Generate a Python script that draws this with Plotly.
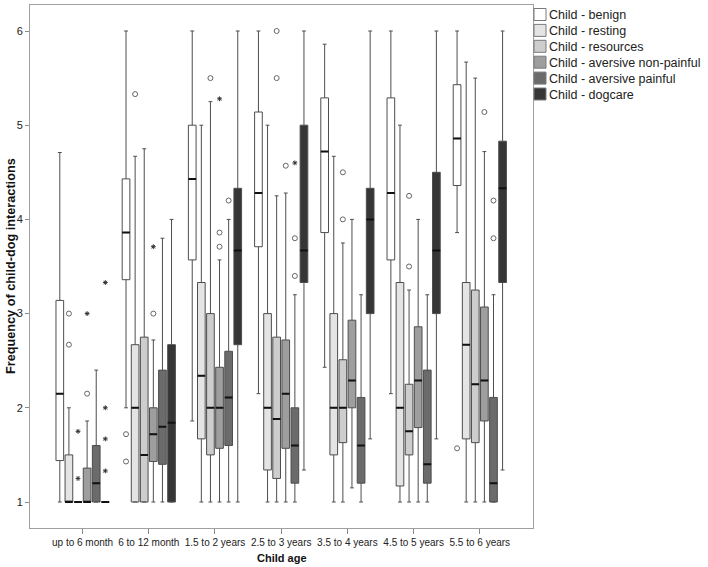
import plotly.graph_objects as go

# ---------------- data ----------------
categories = ["up to 6 month", "6 to 12 month", "1.5 to 2 years", "2.5 to 3 years",
              "3.5 to 4 years", "4.5 to 5 years", "5.5 to 6 years"]

series_names = ["Child - benign", "Child - resting", "Child - resources",
                "Child - aversive non-painful", "Child - aversive painful", "Child - dogcare"]

# per category: [lower whisker, Q1, median, Q3, upper whisker]
benign = [[1.00, 1.44, 2.15, 3.14, 4.71], [2.00, 3.36, 3.86, 4.43, 6.00], [1.86, 3.57, 4.43, 5.00, 6.00],
          [2.15, 3.71, 4.28, 5.14, 6.00], [2.43, 3.86, 4.72, 5.29, 5.86], [2.15, 3.57, 4.28, 5.29, 6.00],
          [3.86, 4.36, 4.86, 5.43, 6.00]]
resting = [[1.00, 1.00, 1.00, 1.50, 2.00], [1.00, 1.00, 2.00, 2.67, 4.67], [1.00, 1.67, 2.34, 3.33, 5.00],
           [1.00, 1.34, 2.00, 3.00, 5.00], [1.00, 1.50, 2.00, 3.00, 4.67], [1.00, 1.17, 2.00, 3.33, 5.00],
           [1.00, 1.67, 2.67, 3.33, 5.67]]
resources = [[1.00, 1.00, 1.00, 1.00, 1.00], [1.00, 1.00, 1.50, 2.75, 4.75], [1.00, 1.50, 2.00, 3.00, 5.25],
             [1.00, 1.25, 1.88, 2.75, 4.25], [1.00, 1.63, 2.00, 2.51, 3.75], [1.00, 1.50, 1.75, 2.25, 3.25],
             [1.00, 1.63, 2.25, 3.25, 5.50]]
nonpainful = [[1.00, 1.00, 1.00, 1.36, 1.86], [1.00, 1.43, 1.72, 2.00, 2.72], [1.00, 1.57, 2.00, 2.43, 3.57],
              [1.00, 1.57, 2.15, 2.72, 4.28], [1.15, 2.00, 2.29, 2.93, 4.00], [1.00, 1.79, 2.29, 2.86, 4.00],
              [1.00, 1.86, 2.29, 3.07, 4.72]]
painful = [[1.00, 1.00, 1.20, 1.60, 2.40], [1.00, 1.40, 1.80, 2.40, 3.80], [1.00, 1.60, 2.11, 2.60, 4.00],
           [1.00, 1.20, 1.60, 2.00, 3.20], [1.00, 1.20, 1.60, 2.11, 3.20], [1.00, 1.20, 1.40, 2.40, 3.20],
           [1.00, 1.00, 1.20, 2.11, 3.20]]
dogcare = [[1.00, 1.00, 1.00, 1.00, 1.00], [1.00, 1.00, 1.84, 2.67, 4.00], [1.00, 2.67, 3.67, 4.33, 6.00],
           [1.34, 3.33, 3.67, 5.00, 6.00], [1.67, 3.00, 4.00, 4.33, 6.00], [1.67, 3.00, 3.67, 4.50, 6.00],
           [1.34, 3.33, 4.33, 4.83, 6.00]]

# outliers: (category index, value)
benign_circles = [(1, 1.72), (1, 1.43), (6, 1.57)]
resting_circles = [(0, 3.00), (0, 2.67), (1, 5.33)]
resources_circles = [(2, 5.50), (3, 6.00), (3, 5.50), (4, 4.50), (4, 4.00), (5, 4.25), (5, 3.50)]
nonpainful_circles = [(0, 2.15), (1, 3.00), (2, 3.86), (2, 3.71), (3, 4.57), (6, 5.14)]
painful_circles = [(2, 4.20), (3, 3.80), (3, 3.40), (6, 4.20), (6, 3.80)]
dogcare_circles = []

benign_stars = []
resting_stars = []
resources_stars = [(0, 1.75), (0, 1.25)]
nonpainful_stars = [(0, 3.00), (1, 3.71), (2, 5.28)]
painful_stars = [(3, 4.60)]
dogcare_stars = [(0, 3.33), (0, 2.00), (0, 1.67), (0, 1.33)]

# ---------------- style ----------------
fills = ["#ffffff", "#e4e4e4", "#cdcdcd", "#9e9e9e", "#6b6b6b", "#363636"]
stats = [benign, resting, resources, nonpainful, painful, dogcare]
circles = [benign_circles, resting_circles, resources_circles, nonpainful_circles, painful_circles, dogcare_circles]
stars = [benign_stars, resting_stars, resources_stars, nonpainful_stars, painful_stars, dogcare_stars]

FONT = "Liberation Sans, Arial, sans-serif"
pitch = 0.1375
box_w = 0.116
n = len(series_names)

W, H = 708, 567
ML, MR, MT, MB = 30, 175, 5, 39
PW, PH = W - ML - MR, H - MT - MB


def px_x(px):
    return (px - ML) / PW


def px_y(py):
    return (H - MB - py) / PH


fig = go.Figure()
for s in range(n):
    off = (s - (n - 1) / 2) * pitch
    xs = [i + off for i in range(len(categories))]
    st = stats[s]
    fig.add_trace(go.Box(
        x=xs, lowerfence=[r[0] for r in st], q1=[r[1] for r in st], median=[r[2] for r in st],
        q3=[r[3] for r in st], upperfence=[r[4] for r in st],
        width=box_w, whiskerwidth=0.5, fillcolor=fills[s], boxpoints=False,
        line=dict(color="#4d4d4d", width=1), name=series_names[s], showlegend=False,
        hoverinfo="skip"))
    # thick median bar
    med = [r[2] for r in st]
    fig.add_trace(go.Box(
        x=xs, lowerfence=med, q1=med, median=med, q3=med, upperfence=med,
        width=box_w, whiskerwidth=1, fillcolor="rgba(0,0,0,0)", boxpoints=False,
        line=dict(color="#111111", width=2), showlegend=False, hoverinfo="skip"))
    if circles[s]:
        fig.add_trace(go.Scatter(
            x=[c + off for c, v in circles[s]], y=[v for c, v in circles[s]], mode="markers",
            marker=dict(symbol="circle-open", size=5, color="#666666", line=dict(width=1, color="#666666")),
            showlegend=False, hoverinfo="skip"))
    if stars[s]:
        fig.add_trace(go.Scatter(
            x=[c + off for c, v in stars[s]], y=[v for c, v in stars[s]], mode="markers",
            marker=dict(symbol="asterisk", size=4, color="#333333", line=dict(width=1, color="#333333")),
            showlegend=False, hoverinfo="skip"))

# legend (manual, to match spacing)
shapes = []
annotations = []
for s in range(n):
    cy = 14.5 + 15.9 * s
    shapes.append(dict(type="rect", xref="paper", yref="paper",
                       x0=px_x(534), x1=px_x(546), y0=px_y(cy + 6), y1=px_y(cy - 6),
                       fillcolor=fills[s], line=dict(color="#7a7a7a", width=1)))
    annotations.append(dict(text=series_names[s], xref="paper", yref="paper",
                            x=px_x(546.5), y=px_y(cy + 0.5), xanchor="left", yanchor="middle",
                            showarrow=False, font=dict(family=FONT, size=12.5, color="#222222")))

annotations.append(dict(text="<b>Frequency of child-dog interactions</b>", xref="paper", yref="paper",
                        x=px_x(10.5), y=0.5, xanchor="center", yanchor="middle", textangle=-90,
                        showarrow=False, font=dict(family=FONT, size=12.7, color="#111111")))
annotations.append(dict(text="<b>Child age</b>", xref="paper", yref="paper",
                        x=0.5, y=px_y(557.5), xanchor="center", yanchor="middle",
                        showarrow=False, font=dict(family=FONT, size=11, color="#111111")))

fig.update_layout(
    template="none",
    width=W, height=H, margin=dict(l=ML, r=MR, t=MT, b=MB, pad=0),
    paper_bgcolor="white", plot_bgcolor="white", boxmode="overlay",
    font=dict(family=FONT, size=11, color="#222222"),
    shapes=shapes, annotations=annotations, showlegend=False,
    xaxis=dict(range=[-0.794, 6.803], tickmode="array", tickvals=list(range(len(categories))),
               ticktext=categories, tickangle=0, ticks="outside", ticklen=5, tickcolor="#8a8a8a",
               showgrid=False, zeroline=False, showline=True, mirror=True, linecolor="#a0a0a0",
               linewidth=1, automargin=False, tickfont=dict(size=10)),
    yaxis=dict(range=[0.724, 6.276], tickmode="array", tickvals=[1, 2, 3, 4, 5, 6],
               ticks="outside", ticklen=4, tickcolor="#8a8a8a",
               showgrid=False, zeroline=False, showline=True, mirror=True, linecolor="#a0a0a0",
               linewidth=1, automargin=False, tickfont=dict(size=11)),
)

fig.write_html("out.html", config={"displayModeBar": False},
               post_script="document.body.style.margin='0px';")
